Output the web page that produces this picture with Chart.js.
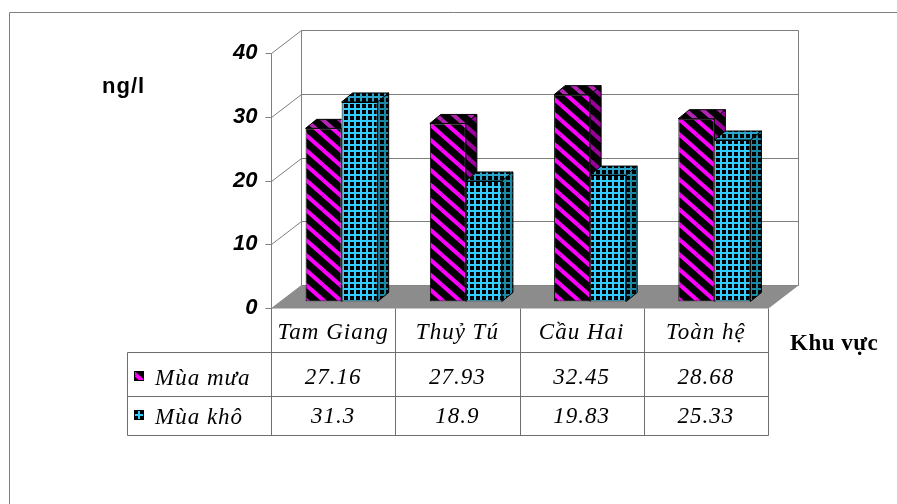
<!DOCTYPE html>
<html>
<head>
<meta charset="utf-8">
<script src="https://cdn.jsdelivr.net/npm/chart.js@4.4.0/dist/chart.umd.min.js"></script>
<style>
  html, body { margin: 0; padding: 0; background: #fff; }
  canvas { display: block; }
</style>
</head>
<body>
<canvas id="c" width="897" height="504"></canvas>
<script>
// Concentrations by area, rainy vs dry season (ng/l)
const regions = ['Tam Giang', 'Thuỷ Tú', 'Cầu Hai', 'Toàn hệ'];
const rainySeason = [27.16, 27.93, 32.45, 28.68];
const drySeason = [31.3, 18.9, 19.83, 25.33];
const seriesNames = ['Mùa mưa', 'Mùa khô'];
const yTicks = [0, 10, 20, 30, 40];
const unitLabel = 'ng/l';
const categoryTitle = 'Khu vực';

// 3D offsets relative to the bars' front faces
const FRONT = [-8.5, 6.5];     // front edge of the floor
const BACK = [21.5, -16.5];    // back wall
const BAR_DEPTH = [11, -9];    // depth of each bar
const LINE = '#7f7f7f';
const TABLE_ROWS = [352, 396, 435];   // bottoms of header, row 1, row 2
const TABLE_LEFT = 127;

function px(v) { return Math.round(v) + 0.5; }

function stripePattern(fg) {
  const w = 17, h = 15;
  const c = document.createElement('canvas');
  c.width = w; c.height = h;
  const g = c.getContext('2d');
  g.fillStyle = '#000'; g.fillRect(0, 0, w, h);
  g.strokeStyle = fg; g.lineWidth = 4;
  for (const ox of [-w, 0, w]) for (const oy of [-h, 0, h]) {
    g.beginPath(); g.moveTo(ox, oy); g.lineTo(ox + w, oy + h); g.stroke();
  }
  return g.createPattern(c, 'repeat');
}
function gridPattern(fg) {
  const s = 6;
  const c = document.createElement('canvas');
  c.width = s; c.height = s;
  const g = c.getContext('2d');
  g.fillStyle = '#000'; g.fillRect(0, 0, s, s);
  g.fillStyle = fg;
  g.fillRect(0, 0, s, 2);
  g.fillRect(0, 0, 2, s);
  return g.createPattern(c, 'repeat');
}

const fills = [
  { front: stripePattern('#ff00ff'), top: stripePattern('#b324b3'), side: stripePattern('#a000a0') },
  { front: gridPattern('#33ccff'), top: gridPattern('#2aa6cc'), side: gridPattern('#1a8aa6') }
];

const scene = {
  id: 'scene3d',
  beforeDraw(chart) {
    const ctx = chart.ctx;
    ctx.save();
    ctx.strokeStyle = LINE; ctx.lineWidth = 1;
    ctx.beginPath();
    ctx.moveTo(9.5, 504); ctx.lineTo(9.5, 12.5); ctx.lineTo(897, 12.5);
    ctx.stroke();
    // unit label
    ctx.fillStyle = '#000';
    ctx.font = 'bold 22px "Liberation Sans", Arial, sans-serif';
    ctx.letterSpacing = '1px';
    ctx.textAlign = 'left'; ctx.textBaseline = 'alphabetic';
    ctx.fillText(unitLabel, 102, 93);
    ctx.restore();
  },
  beforeDatasetsDraw(chart) {
    const { ctx, chartArea: a, scales: { y } } = chart;
    const fl = px(a.left + FRONT[0]), fr = px(a.right + FRONT[0]);
    const bl = px(a.left + BACK[0]), br = px(a.right + BACK[0]);
    const yF = v => px(y.getPixelForValue(v) + FRONT[1]);
    const yB = v => px(y.getPixelForValue(v) + BACK[1]);
    const top = yTicks[yTicks.length - 1], zero = yTicks[0];
    ctx.save();
    ctx.lineWidth = 1; ctx.strokeStyle = LINE;
    ctx.beginPath();
    for (const v of yTicks) {
      ctx.moveTo(bl, yB(v)); ctx.lineTo(br, yB(v));
      ctx.moveTo(fl, yF(v)); ctx.lineTo(bl, yB(v));
      ctx.moveTo(fl - 6, yF(v)); ctx.lineTo(fl, yF(v));
    }
    ctx.moveTo(bl, yB(top)); ctx.lineTo(bl, yB(zero));
    ctx.moveTo(br, yB(top)); ctx.lineTo(br, yB(zero));
    ctx.moveTo(fl, yF(top)); ctx.lineTo(fl, yF(zero));
    ctx.stroke();
    // floor
    ctx.fillStyle = '#8c8c8c';
    ctx.beginPath();
    ctx.moveTo(fl, yF(zero)); ctx.lineTo(fr, yF(zero));
    ctx.lineTo(br, yB(zero)); ctx.lineTo(bl, yB(zero));
    ctx.closePath(); ctx.fill();
    ctx.restore();
  },
  afterDatasetsDraw(chart) {
    const ctx = chart.ctx;
    const [dx, dy] = BAR_DEPTH;
    const metas = chart.data.datasets.map((_, i) => chart.getDatasetMeta(i));
    const n = chart.data.labels.length;
    ctx.save();
    ctx.lineWidth = 1; ctx.strokeStyle = '#000'; ctx.lineJoin = 'miter';
    for (let j = 0; j < n; j++) {
      metas.forEach((meta, i) => {
        const p = meta.data[j].getProps(['x', 'y', 'base', 'width'], true);
        const x0 = p.x - p.width / 2, x1 = p.x + p.width / 2;
        const t = p.y, b = p.base;
        ctx.save();
        const nextMeta = metas[i + 1];
        if (nextMeta) {
          // keep the neighbour's front face intact
          const q = nextMeta.data[j].getProps(['x', 'y', 'base', 'width'], true);
          ctx.beginPath();
          ctx.rect(0, 0, chart.width, chart.height);
          ctx.rect(q.x - q.width / 2, q.y, q.width, q.base - q.y);
          ctx.clip('evenodd');
        }
        // top face
        ctx.fillStyle = fills[i].top;
        ctx.beginPath();
        ctx.moveTo(x0, t); ctx.lineTo(x1, t); ctx.lineTo(x1 + dx, t + dy); ctx.lineTo(x0 + dx, t + dy);
        ctx.closePath(); ctx.fill(); ctx.stroke();
        // side face
        ctx.fillStyle = fills[i].side;
        ctx.beginPath();
        ctx.moveTo(x1, t); ctx.lineTo(x1 + dx, t + dy); ctx.lineTo(x1 + dx, b + dy); ctx.lineTo(x1, b);
        ctx.closePath(); ctx.fill(); ctx.stroke();
        ctx.restore();
      });
    }
    ctx.restore();
  },
  afterDraw(chart) {
    const { ctx, scales: { x, y } } = chart;
    const cw = x.getPixelForValue(1) - x.getPixelForValue(0);
    const edges = regions.map((_, k) => px(x.getPixelForValue(0) - cw / 2 + FRONT[0] + k * cw));
    edges.push(px(x.getPixelForValue(regions.length - 1) + cw / 2 + FRONT[0]));
    const headTop = px(y.getPixelForValue(0) + FRONT[1]);
    const rows = TABLE_ROWS.map(px);
    const left = px(TABLE_LEFT), right = edges[edges.length - 1];
    ctx.save();
    ctx.strokeStyle = '#6e6e6e'; ctx.lineWidth = 1;
    ctx.beginPath();
    for (const e of edges) { ctx.moveTo(e, headTop); ctx.lineTo(e, rows[2]); }
    ctx.moveTo(left, rows[0]); ctx.lineTo(left, rows[2]);
    for (const r of rows) { ctx.moveTo(left, r); ctx.lineTo(right, r); }
    ctx.stroke();

    ctx.fillStyle = '#000';
    ctx.textBaseline = 'alphabetic';
    ctx.font = 'italic 23px "Liberation Serif", "Times New Roman", serif';
    ctx.letterSpacing = '1px';
    ctx.textAlign = 'center';
    const centers = regions.map((_, k) => x.getPixelForValue(k) + FRONT[0]);
    regions.forEach((r, k) => ctx.fillText(r, centers[k], 339));
    const series = [rainySeason, drySeason];
    const baselines = [384, 423];
    series.forEach((vals, i) => {
      vals.forEach((v, k) => ctx.fillText(String(v), centers[k], baselines[i]));
    });
    ctx.textAlign = 'left';
    seriesNames.forEach((name, i) => {
      ctx.fillStyle = '#000';
      ctx.fillText(name, 155, baselines[i] + 1);
      const ky = baselines[i] - 13;
      ctx.fillStyle = fills[i].front;
      ctx.fillRect(134, ky, 10, 10);
      ctx.strokeStyle = '#000';
      ctx.strokeRect(134.5, ky + 0.5, 9, 9);
    });
    // category axis title
    ctx.fillStyle = '#000';
    ctx.font = 'bold 23px "Liberation Serif", "Times New Roman", serif';
    ctx.letterSpacing = '0.5px';
    ctx.fillText(categoryTitle, 790, 350);
    ctx.restore();
  }
};

new Chart(document.getElementById('c'), {
  type: 'bar',
  data: {
    labels: regions,
    datasets: [
      { label: seriesNames[0], data: rainySeason, backgroundColor: fills[0].front,
        borderColor: '#000', borderWidth: 1, borderSkipped: false,
        barPercentage: 1, categoryPercentage: 0.58 },
      { label: seriesNames[1], data: drySeason, backgroundColor: fills[1].front,
        borderColor: '#000', borderWidth: 1, borderSkipped: false,
        barPercentage: 1, categoryPercentage: 0.58 }
    ]
  },
  options: {
    responsive: false,
    animation: false,
    devicePixelRatio: 1,
    layout: { padding: { left: 0, right: 120.5, top: 46.5, bottom: 202.5 } },
    plugins: { legend: { display: false }, tooltip: { enabled: false } },
    scales: {
      x: { display: false },
      y: {
        min: 0, max: 40,
        afterBuildTicks: s => { s.ticks = yTicks.map(v => ({ value: v })); },
        afterFit: s => { s.width = 279.5; },
        grid: { display: false, drawTicks: false },
        border: { display: false },
        ticks: {
          padding: 22, labelOffset: 6.5, color: '#000',
          font: { family: '"Liberation Sans", Arial, sans-serif', size: 22, weight: 'bold', style: 'italic' }
        }
      }
    }
  },
  plugins: [scene]
});
</script>
</body>
</html>
